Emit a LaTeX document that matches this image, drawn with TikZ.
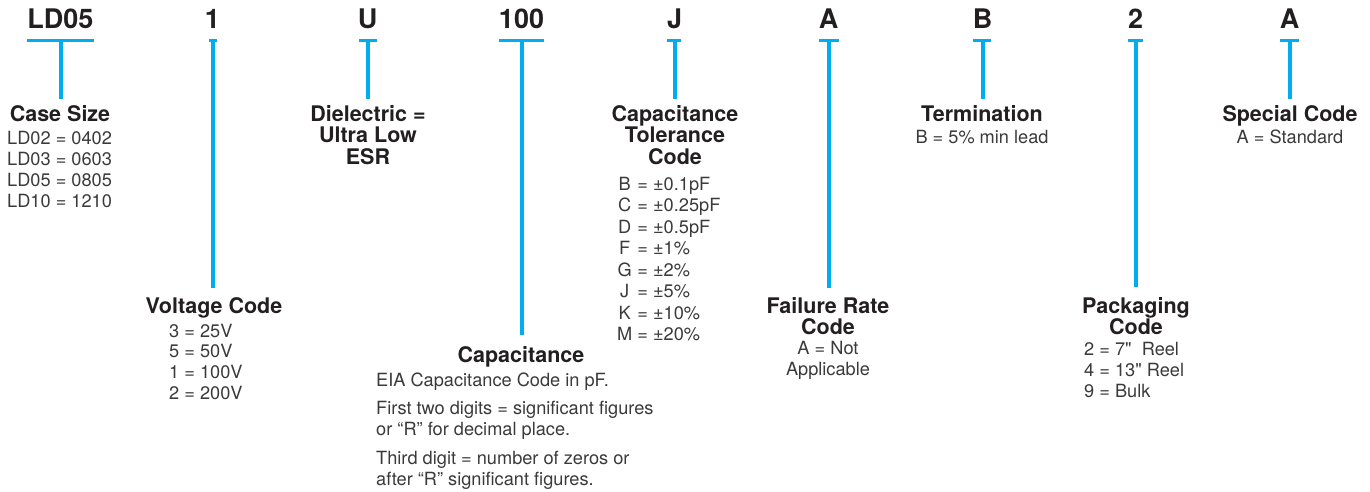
\documentclass[tikz,border=0pt]{standalone}
\usepackage{fontspec}
\setmainfont{TeX Gyre Heros}[Ligatures=TeXOff]
\definecolor{cy}{HTML}{00AEEF}
\definecolor{ink}{HTML}{231F20}
\definecolor{bodyc}{HTML}{3A3A3A}
\newcommand\blk[2]{\begin{tabular}[t]{@{}#1@{}}#2\end{tabular}}
\tikzset{
  hdr/.style={font=\fontsize{27}{27}\selectfont\bfseries, text=ink, anchor=base, inner sep=0pt},
  ttl/.style={font=\fontsize{21.5}{20}\selectfont\bfseries, text=ink, anchor=base, inner sep=0pt},
  txt/.style={font=\fontsize{18.2}{21.2}\selectfont, text=bodyc, inner sep=0pt},
  barline/.style={draw=cy, line width=3pt},
  stem/.style={draw=cy, line width=4pt},
}
\begin{document}
\begin{tikzpicture}[x=1pt,y=-1pt]
\useasboundingbox (0,0) rectangle (1370,491);
% headers
\node[hdr] (h1) at (60.5,28) {LD05};
\node[hdr] (h2) at (212.5,28) {1};
\node[hdr] (h3) at (367.5,28) {U};
\node[hdr] (h4) at (521.5,28) {100};
\node[hdr] (h5) at (674.5,28) {J};
\node[hdr] (h6) at (828.5,28) {A};
\node[hdr] (h7) at (982.5,28) {B};
\node[hdr] (h8) at (1135.5,28) {2};
\node[hdr] (h9) at (1289.5,28) {A};
% bars
\coordinate (bl1) at (27,40);   \coordinate (br1) at (94,40);
\coordinate (bl2) at (209,40);  \coordinate (br2) at (217,40);
\coordinate (bl3) at (359,40);  \coordinate (br3) at (377,40);
\coordinate (bl4) at (499,40);  \coordinate (br4) at (544,40);
\coordinate (bl5) at (667,40);  \coordinate (br5) at (681,40);
\coordinate (bl6) at (819,40);  \coordinate (br6) at (839,40);
\coordinate (bl7) at (973,40);  \coordinate (br7) at (991,40);
\coordinate (bl8) at (1128,40); \coordinate (br8) at (1143,40);
\coordinate (bl9) at (1280,40); \coordinate (br9) at (1299,40);
\foreach \i in {1,...,9} {\draw[barline] (bl\i) -- (br\i);}
% stems
\coordinate (s1) at (60.5,40);   \coordinate (e1) at (60.5,99);
\coordinate (s2) at (212.5,40);  \coordinate (e2) at (212.5,288);
\coordinate (s3) at (367.5,40);  \coordinate (e3) at (367.5,99);
\coordinate (s4) at (521.5,40);  \coordinate (e4) at (521.5,335);
\coordinate (s5) at (674.5,40);  \coordinate (e5) at (674.5,99);
\coordinate (s6) at (828.5,40);  \coordinate (e6) at (828.5,288);
\coordinate (s7) at (982.5,40);  \coordinate (e7) at (982.5,99);
\coordinate (s8) at (1135.5,40); \coordinate (e8) at (1135.5,287);
\coordinate (s9) at (1289.5,40); \coordinate (e9) at (1289.5,99);
\foreach \i in {1,...,9} {\draw[stem] (s\i) -- (e\i);}
% titles
\node[ttl] (t1) at (60,121) {Case Size};
\node[ttl] (t2) at (214,313) {Voltage Code};
\node[ttl] (t3) at (368,121) {\blk{c}{Dielectric =\\Ultra Low\\ESR}};
\node[ttl] (t4) at (521,362) {Capacitance};
\node[ttl] (t5) at (675,121) {\blk{c}{Capacitance\\Tolerance\\Code}};
\node[ttl] (t6) at (828,313) {\blk{c}{Failure Rate\\Code}};
\node[ttl] (t7) at (982,121) {Termination};
\node[ttl] (t8) at (1136,313) {\blk{c}{Packaging\\Code}};
\node[ttl] (t9) at (1290,121) {Special Code};
% bodies
\node[txt, anchor=base west] (d1) at (7,144) {\fontsize{18.2}{21.3}\selectfont\blk{l}{LD02 = 0402\\LD03 = 0603\\LD05 = 0805\\LD10 = 1210}};
\node[txt, anchor=base west] (d2) at (169,337) {\fontsize{18.2}{20.8}\selectfont\blk{l}{3 = 25V\\5 = 50V\\1 = 100V\\2 = 200V}};
\node[txt, anchor=base west] (d4) at (376,386) {\blk{l}{EIA Capacitance Code in pF.\\[7.5pt]First two digits = significant figures\\or “R” for decimal place.\\[7.5pt]Third digit = number of zeros or\\after “R” significant figures.}};
\node[txt, anchor=base west] (d5) at (617,190) {\fontsize{18.2}{21.5}\selectfont\blk{c@{\ =\ }l}{B & ±0.1pF\\C & ±0.25pF\\D & ±0.5pF\\F & ±1\%\\G & ±2\%\\J & ±5\%\\K & ±10\%\\M & ±20\%}};
\node[txt, anchor=base] (d6) at (828,354) {\blk{c}{A = Not\\Applicable}};
\node[txt, anchor=base] (d7) at (982,143) {B = 5\% min lead};
\node[txt, anchor=base west] (d8) at (1084,355) {\blk{l}{2 = 7"\ \ Reel\\4 = 13" Reel\\9 = Bulk}};
\node[txt, anchor=base] (d9) at (1290,143) {A = Standard};
\end{tikzpicture}
\end{document}
